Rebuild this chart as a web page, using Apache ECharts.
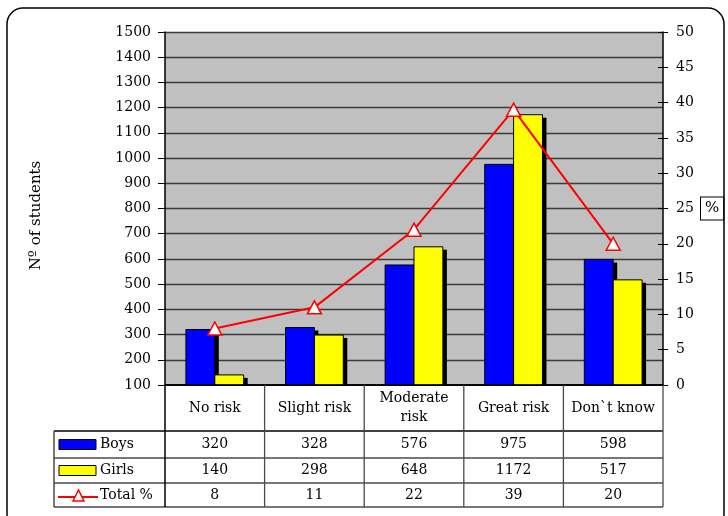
<!DOCTYPE html>
<html>
<head>
<meta charset="utf-8">
<script src="https://cdn.jsdelivr.net/npm/echarts@6/dist/echarts.min.js"></script>
<style>
  html, body { margin: 0; padding: 0; background: #fff; }
  #main { width: 728px; height: 516px; }
</style>
</head>
<body>
<div id="main"></div>
<script>
// Perceived risk categories
const categories = ['No risk', 'Slight risk', 'Moderate\nrisk', 'Great risk', 'Don`t know'];
// Number of students per category
const boys = [320, 328, 576, 975, 598];
const girls = [140, 298, 648, 1172, 517];
// Share of all students (%)
const totalPct = [8, 11, 22, 39, 20];

// Axis ranges
const countMin = 100, countMax = 1500, countStep = 100;
const pctMin = 0, pctMax = 50, pctStep = 5;

const seriesNames = ['Boys', 'Girls', 'Total %'];

const FONT = '"DejaVu Serif", "Liberation Serif", serif';
const FS = 14;
const BLUE = '#0000ff', YELLOW = '#ffff00', RED = '#ff0000';

const chart = echarts.init(document.getElementById('main'));

// Bars with a hard drop shadow; side = -1 draws left of the band centre, 0 right of it
function shadowBar(color, side) {
  return function (params, api) {
    const i = api.value(0);
    const v = api.value(1);
    const top = api.coord([i, v]);
    const bottom = api.coord([i, countMin]);
    const band = api.size([1, 0])[0];
    const w = band * 0.29;
    const x = top[0] + side * w;
    const h = bottom[1] - top[1];
    return {
      type: 'group',
      children: [
        { type: 'rect', shape: { x: x + 4, y: top[1] + 3, width: w, height: h },
          style: { fill: '#000' } },
        { type: 'rect', shape: { x: x, y: top[1], width: w, height: h },
          style: { fill: color, stroke: '#000', lineWidth: 1 } }
      ]
    };
  };
}

const plain = v => String(v);

const option = {
  backgroundColor: '#fff',
  animation: false,
  textStyle: { fontFamily: FONT },
  grid: {
    left: 165, right: 65, top: 32, bottom: 131,
    show: true, backgroundColor: '#c0c0c0', borderWidth: 0
  },
  xAxis: {
    type: 'category',
    data: categories,
    axisLine: { lineStyle: { color: '#000', width: 1.5 } },
    axisTick: { show: false },
    axisLabel: { show: false },
    splitLine: { show: false }
  },
  yAxis: [
    {
      type: 'value', min: countMin, max: countMax, interval: countStep,
      name: 'Nº of students', nameLocation: 'middle', nameRotate: 90, nameGap: 121,
      nameTextStyle: { fontFamily: FONT, fontSize: 15, color: '#000', padding: [0, 14, 0, 0] },
      axisLine: { show: true, lineStyle: { color: '#000', width: 1.5 } },
      axisTick: { show: true, length: 7, lineStyle: { color: '#000' } },
      axisLabel: { fontFamily: FONT, fontSize: FS, color: '#000', margin: 14, formatter: plain },
      splitLine: { show: true, lineStyle: { color: '#3a3a3a', width: 1.3 } }
    },
    {
      type: 'value', min: pctMin, max: pctMax, interval: pctStep, position: 'right',
      name: '%', nameLocation: 'middle', nameRotate: 0, nameGap: 38,
      nameTextStyle: {
        fontFamily: FONT, fontSize: 15, color: '#000', align: 'left',
        borderColor: '#000', borderWidth: 1, padding: [4, 4, 3, 4], backgroundColor: '#fff'
      },
      axisLine: { show: true, lineStyle: { color: '#000', width: 1.5 } },
      axisTick: { show: true, length: 5, lineStyle: { color: '#000' } },
      axisLabel: { fontFamily: FONT, fontSize: FS, color: '#000', margin: 13, formatter: plain },
      splitLine: { show: false }
    },
    {
      // inner half of the crossing ticks on the percentage axis
      type: 'value', min: pctMin, max: pctMax, interval: pctStep, position: 'right',
      axisLine: { show: false },
      axisTick: { show: true, inside: true, length: 5, lineStyle: { color: '#000' } },
      axisLabel: { show: false },
      splitLine: { show: false }
    }
  ],
  series: [
    {
      name: seriesNames[0], type: 'custom', yAxisIndex: 0,
      data: boys.map((v, i) => [i, v]),
      encode: { x: 0, y: 1 },
      renderItem: shadowBar(BLUE, -1),
      clip: true
    },
    {
      name: seriesNames[1], type: 'custom', yAxisIndex: 0,
      data: girls.map((v, i) => [i, v]),
      encode: { x: 0, y: 1 },
      renderItem: shadowBar(YELLOW, 0),
      clip: true
    },
    {
      name: seriesNames[2], type: 'line', data: totalPct, yAxisIndex: 1,
      symbol: 'triangle', symbolSize: [14, 13],
      lineStyle: { color: RED, width: 2 },
      itemStyle: { color: '#fff', borderColor: RED, borderWidth: 1.5 },
      z: 5
    }
  ]
};

chart.setOption(option);

// Data table under the plot, aligned with the category bands
function buildTable() {
  const xs = categories.map((c, i) => chart.convertToPixel({ xAxisIndex: 0 }, i));
  const half = (xs[1] - xs[0]) / 2;
  const left = xs[0] - half;
  const right = xs[xs.length - 1] + half;
  const base = chart.convertToPixel({ yAxisIndex: 0 }, countMin);
  const keyLeft = 54;
  const rowEdges = [base + 46, base + 73, base + 98, base + 122];
  const lineColor = '#4a4a4a';
  const els = [];
  const Z = 20;

  // white header band (hides bar shadows below the axis)
  els.push({ type: 'rect', z: Z, shape: { x: left - 2, y: base + 1, width: right - left + 10, height: 45 },
    style: { fill: '#fff' } });

  // horizontal rules
  rowEdges.forEach((y, k) => {
    els.push({ type: 'line', z: Z + 1, shape: { x1: keyLeft, y1: y, x2: right, y2: y },
      style: { stroke: k === 0 ? '#000' : lineColor, lineWidth: 1.5 } });
  });
  // plot bottom edge
  els.push({ type: 'line', z: Z + 1, shape: { x1: left, y1: base, x2: right, y2: base },
    style: { stroke: '#000', lineWidth: 1.5 } });
  // vertical rules
  for (let i = 0; i <= xs.length; i++) {
    const x = left + i * 2 * half;
    els.push({ type: 'line', z: Z + 1, shape: { x1: x, y1: base, x2: x, y2: rowEdges[3] },
      style: { stroke: i === 0 ? '#000' : lineColor, lineWidth: i === 0 ? 1.5 : 1.3 } });
  }
  els.push({ type: 'line', z: Z + 1, shape: { x1: keyLeft, y1: rowEdges[0], x2: keyLeft, y2: rowEdges[3] },
    style: { stroke: lineColor, lineWidth: 1.5 } });

  const txt = (x, y, s, align) => ({
    type: 'text', z: Z + 2, x: x, y: y,
    style: { text: s, font: FS + 'px ' + FONT, fill: '#000', align: align || 'center',
      verticalAlign: 'middle', lineHeight: 19 }
  });

  // category header
  categories.forEach((c, i) => els.push(txt(xs[i], (base + rowEdges[0]) / 2, c)));

  // value rows
  const rows = [boys, girls, totalPct];
  rows.forEach((vals, r) => {
    const yc = (rowEdges[r] + rowEdges[r + 1]) / 2;
    vals.forEach((v, i) => els.push(txt(xs[i], yc, String(v))));
    els.push(txt(100, yc, seriesNames[r], 'left'));
  });

  // legend keys
  const yB = (rowEdges[0] + rowEdges[1]) / 2, yG = (rowEdges[1] + rowEdges[2]) / 2, yT = (rowEdges[2] + rowEdges[3]) / 2;
  els.push({ type: 'rect', z: Z + 2, shape: { x: 59, y: yB - 5, width: 37, height: 10 },
    style: { fill: BLUE, stroke: '#000', lineWidth: 1 } });
  els.push({ type: 'rect', z: Z + 2, shape: { x: 59, y: yG - 5, width: 37, height: 10 },
    style: { fill: YELLOW, stroke: '#000', lineWidth: 1 } });
  els.push({ type: 'line', z: Z + 2, shape: { x1: 58, y1: yT + 2, x2: 98, y2: yT + 2 },
    style: { stroke: RED, lineWidth: 2 } });
  els.push({ type: 'polygon', z: Z + 3, shape: { points: [[73, yT + 6], [78.5, yT - 5], [84, yT + 6]] },
    style: { fill: '#fff', stroke: RED, lineWidth: 1.5 } });

  // rounded frame
  els.push({ type: 'rect', z: Z + 4, shape: { x: 7, y: 8, width: 717, height: 522, r: 16 },
    style: { fill: 'none', stroke: '#000', lineWidth: 1.5 } });

  chart.setOption({ graphic: { elements: els } });
}

buildTable();
</script>
</body>
</html>
